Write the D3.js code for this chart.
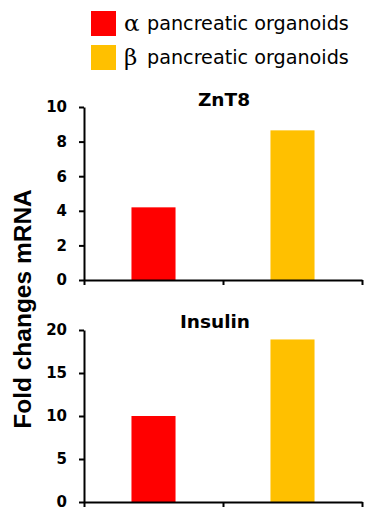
<!DOCTYPE html>
<html><head><meta charset="utf-8">
<script src="https://cdn.jsdelivr.net/npm/d3@7"></script>
<style>body{margin:0;background:#fff}svg{display:block}</style>
</head><body>
<script>
const categories = ["α pancreatic organoids", "β pancreatic organoids"];
const colors = ["#FF0000", "#FFC000"];
const panels = ["ZnT8", "Insulin"];
const znt8Values = [4.2, 8.65];
const insulinValues = [10.0, 18.9];
const znt8Ticks = [0, 2, 4, 6, 8, 10];
const insulinTicks = [0, 5, 10, 15, 20];
const yLabel = "Fold changes mRNA";

const W = 374, H = 518;
const svg = d3.select("body").append("svg").attr("width", W).attr("height", H);

// legend
const leg = svg.append("g");
categories.forEach((c, i) => {
  const y0 = 11 + i * 34;
  leg.append("rect").attr("x", 91).attr("y", y0).attr("width", 25).attr("height", 25).attr("fill", colors[i]);
  const parts = c.split(" ");
  leg.append("text").attr("x", 124).attr("y", y0 + 20)
    .attr("font-family", "DejaVu Serif, serif").attr("font-size", 23).attr("fill", "#000").text(parts[0]);
  leg.append("text").attr("x", 147).attr("y", y0 + 19)
    .attr("font-family", "DejaVu Sans, sans-serif").attr("font-size", 19.2).attr("fill", "#000")
    .text(parts.slice(1).join(" "));
});

const x0 = 84, x1 = 362;
const xb = d3.scaleBand().domain(categories).range([x0, x1]).paddingInner(0.683).paddingOuter(0.3415);
const xl = d3.scaleLinear().domain([0, 2]).range([x0, x1]);

function panel(title, values, ticks, top, bottom, titleY) {
  const y = d3.scaleLinear().domain([0, ticks[ticks.length - 1]]).range([bottom, top]);
  const g = svg.append("g");
  g.selectAll("rect.bar").data(values).join("rect").attr("class", "bar")
    .attr("x", (d, i) => xb(categories[i])).attr("width", xb.bandwidth())
    .attr("y", d => y(d)).attr("height", d => y(0) - y(d))
    .attr("fill", (d, i) => colors[i]);
  const ya = g.append("g").attr("transform", `translate(${x0},0)`)
    .call(d3.axisLeft(y).tickValues(ticks).tickSize(5).tickSizeOuter(0).tickPadding(12));
  ya.select(".domain").attr("stroke", "#000").attr("stroke-width", 2);
  ya.selectAll(".tick line").attr("stroke", "#000").attr("stroke-width", 2);
  ya.selectAll(".tick text").attr("font-family", "DejaVu Sans, sans-serif").attr("font-weight", "bold")
    .attr("font-size", 15).attr("fill", "#000");
  const xa = g.append("g").attr("transform", `translate(0,${bottom})`)
    .call(d3.axisBottom(xl).tickValues([0, 1, 2]).tickFormat("").tickSize(5).tickSizeOuter(0));
  xa.select(".domain").attr("stroke", "#000").attr("stroke-width", 2);
  xa.selectAll(".tick line").attr("stroke", "#000").attr("stroke-width", 2);
  g.append("text").attr("x", 250).attr("y", titleY).attr("text-anchor", "end")
    .attr("font-family", "DejaVu Sans, sans-serif").attr("font-weight", "bold").attr("font-size", 18.5)
    .attr("fill", "#000").text(title);
}

panel(panels[0], znt8Values, znt8Ticks, 107, 280, 106);
panel(panels[1], insulinValues, insulinTicks, 330, 502, 328);

svg.append("text").attr("transform", "translate(31,309) rotate(-90)").attr("text-anchor", "middle")
  .attr("font-family", "Liberation Sans, Arial, sans-serif").attr("font-weight", "bold").attr("font-size", 24.5)
  .attr("fill", "#000").text(yLabel);
</script>
</body></html>
